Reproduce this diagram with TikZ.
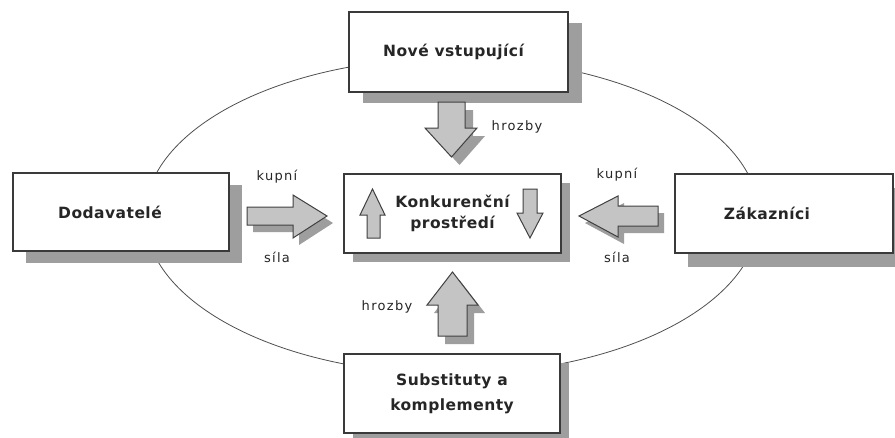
\documentclass[tikz,border=0pt]{standalone}
\usepackage{fontspec}
\setmainfont{DejaVu Sans}
\newfontfamily\boxfont[LetterSpace=3]{DejaVu Sans}
\newfontfamily\lblfont[LetterSpace=10]{DejaVu Sans}
\usetikzlibrary{shadows}
\definecolor{shadowgray}{HTML}{9E9E9E}
\definecolor{boxline}{HTML}{3A3A3A}
\definecolor{arrfill}{HTML}{C4C4C4}
\definecolor{arrline}{HTML}{404040}
\definecolor{ringcol}{HTML}{505050}
\definecolor{txtcol}{HTML}{262626}
\begin{document}
\begin{tikzpicture}[x=1pt,y=-1pt,
  box/.style={draw=boxline, line width=1.1pt, fill=white, inner sep=0pt, align=center,
    text=txtcol, font=\boxfont\bfseries\fontsize{15.5}{21}\selectfont},
  lbl/.style={inner sep=0pt, text=txtcol, font=\lblfont\fontsize{13}{15}\selectfont},
  arr/.style={draw=arrline, line width=1pt, fill=arrfill, line join=miter},
  arrsh/.style={fill=shadowgray}]
\useasboundingbox (0,0) rectangle (895,437);
\fill[white] (0,0) rectangle (895,437);

% ring
\draw[ringcol, line width=0.8pt] (452,216) ellipse [x radius=307, y radius=158];

% boxes
\node[box, minimum width=219pt, minimum height=80pt,
  drop shadow={shadow xshift=14pt, shadow yshift=-11pt, fill=shadowgray, opacity=1}]
  (new) at (458.5,52) {Nové vstupující\hspace*{10pt}};
\node[box, minimum width=216pt, minimum height=78pt,
  drop shadow={shadow xshift=13pt, shadow yshift=-12pt, fill=shadowgray, opacity=1}]
  (sup) at (121,212) {Dodavatelé\hspace*{22pt}};
\node[box, minimum width=217pt, minimum height=79pt,
  drop shadow={shadow xshift=9pt, shadow yshift=-9pt, fill=shadowgray, opacity=1}]
  (comp) at (452.5,213.5) {Konkurenční\\prostředí};
\node[box, minimum width=218pt, minimum height=79pt,
  drop shadow={shadow xshift=13pt, shadow yshift=-14pt, fill=shadowgray, opacity=1}]
  (cust) at (784,213.5) {Zákazníci\hspace*{34pt}};
\node[box, minimum width=216pt, minimum height=79pt,
  font=\boxfont\bfseries\fontsize{15.5}{25}\selectfont,
  drop shadow={shadow xshift=9pt, shadow yshift=-9pt, fill=shadowgray, opacity=1}]
  (subst) at (452,393.5) {Substituty a\\komplementy};

% arrow shadows
\fill[arrsh, shift={(8,8)}] (438,102) -- (465,102) -- (465,128) -- (477,128) -- (451.5,157) -- (425,128) -- (438,128) -- cycle;
\fill[arrsh, shift={(6,7)}] (247,207) -- (293,207) -- (293,195) -- (327,216) -- (293,238) -- (293,225) -- (247,225) -- cycle;
\fill[arrsh, shift={(6,7)}] (658,206) -- (618,206) -- (618,196) -- (579,216) -- (618,237) -- (618,226) -- (658,226) -- cycle;
\fill[arrsh, shift={(7,8)}] (438,336) -- (438,305) -- (427,305) -- (452.5,272) -- (478,305) -- (467,305) -- (467,336) -- cycle;

% arrows
\draw[arr] (438,102) -- (465,102) -- (465,128) -- (477,128) -- (451.5,157) -- (425,128) -- (438,128) -- cycle;
\draw[arr] (247,207) -- (293,207) -- (293,195) -- (327,216) -- (293,238) -- (293,225) -- (247,225) -- cycle;
\draw[arr] (658,206) -- (618,206) -- (618,196) -- (579,216) -- (618,237) -- (618,226) -- (658,226) -- cycle;
\draw[arr] (438,336) -- (438,305) -- (427,305) -- (452.5,272) -- (478,305) -- (467,305) -- (467,336) -- cycle;
\draw[arr] (367,238) -- (367,215) -- (360,215) -- (372.5,189) -- (385,215) -- (380,215) -- (380,238) -- cycle;
\draw[arr] (523,189) -- (537,189) -- (537,213) -- (543,213) -- (530,238) -- (517,213) -- (523,213) -- cycle;

% labels
\node[lbl] (l1) at (517,127) {hrozby};
\node[lbl] (l2) at (277,177) {kupní};
\node[lbl] (l3) at (277,257) {síla};
\node[lbl] (l4) at (617,175) {kupní};
\node[lbl] (l5) at (617,257) {síla};
\node[lbl] (l6) at (387,307) {hrozby};
\end{tikzpicture}
\end{document}
